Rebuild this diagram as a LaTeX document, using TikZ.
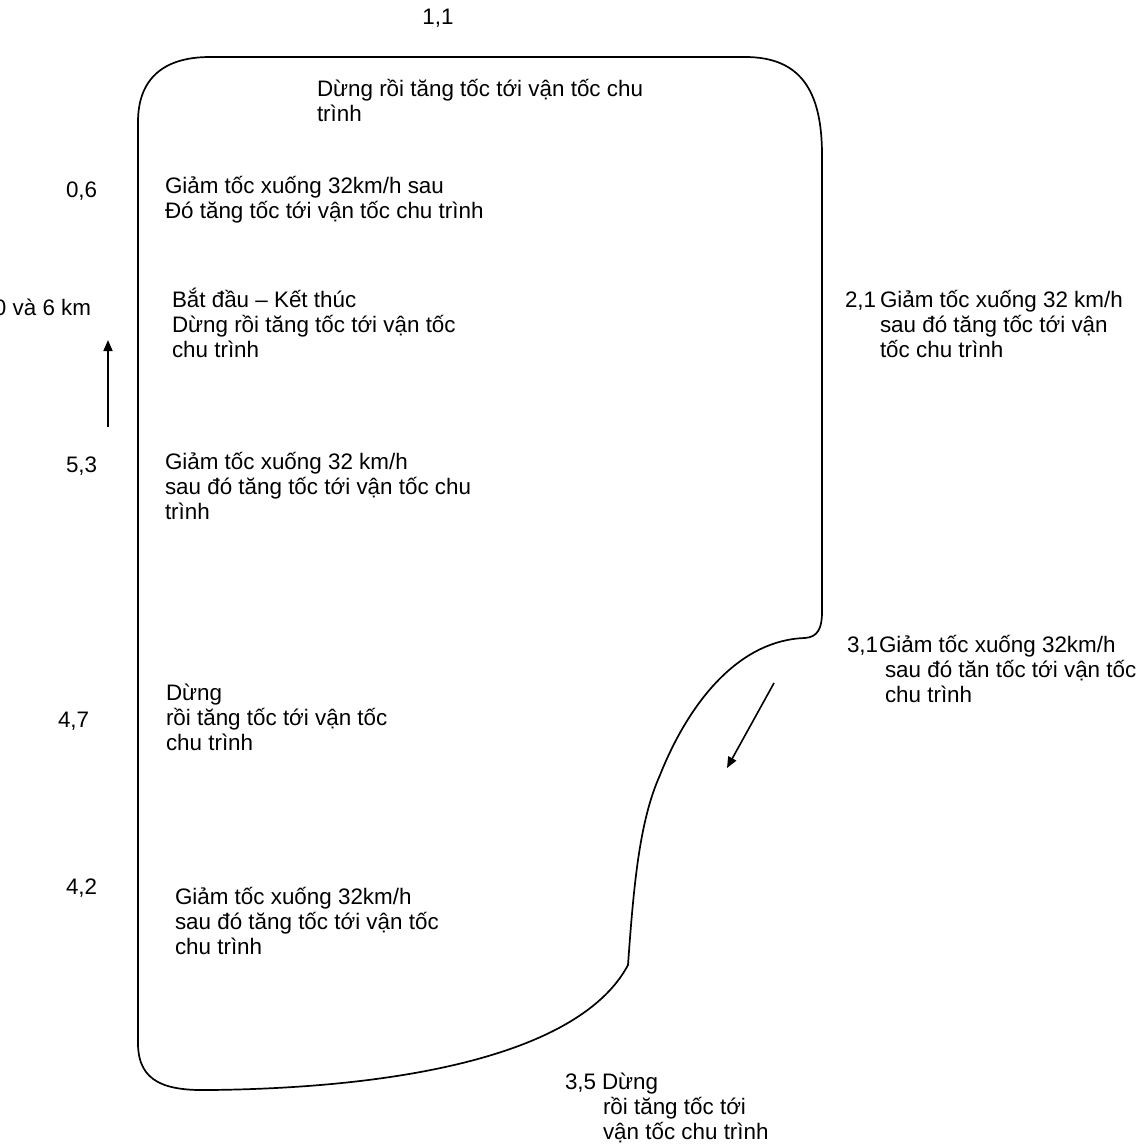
\documentclass[tikz,border=0pt]{standalone}
\usepackage{fontspec}
\setmainfont{Liberation Sans}
\usetikzlibrary{arrows.meta}
\newcommand{\mlines}[1]{\begin{tabular}[t]{@{}l@{}}#1\end{tabular}}
\tikzset{
  lbl/.style={inner sep=0pt, outer sep=0pt, font=\fontsize{22.4}{25}\selectfont, anchor=base west},
  track/.style={line width=1.7pt, line join=round},
  dirarrow/.style={line width=1.6pt, -{Triangle[length=11pt,width=9pt]}}
}
\begin{document}
\begin{tikzpicture}[x=1pt,y=-1pt]
\useasboundingbox (0,0) rectangle (1148,1145);
% track outline
\draw[track] (138,122) -- (138,1045)
  .. controls (139,1082) and (165,1091) .. (210,1090)
  .. controls (400,1088) and (580,1055) .. (628,965)
  .. controls (634,880) and (640,820) .. (660,775)
  .. controls (690,700) and (740,640) .. (805,638)
  .. controls (818,637) and (822,628) .. (822,612)
  -- (822,155)
  .. controls (822,90) and (800,57) .. (745,57)
  -- (210,57)
  .. controls (162,57) and (138,80) .. (138,122) -- cycle;
% arrows
\coordinate (a1s) at (108,427);
\coordinate (a1e) at (108,340);
\draw[dirarrow] (a1s) -- (a1e);
\coordinate (a2s) at (774,683);
\coordinate (a2e) at (727,768);
\draw[dirarrow] (a2s) -- (a2e);
% labels
\node[lbl, anchor=base] (n11) at (438,25) {1,1};
\node[lbl] (t11) at (317,97) {\mlines{Dừng rồi tăng tốc tới vận tốc chu\\trình}};
\node[lbl] (n06) at (66,197) {0,6};
\node[lbl] (t06) at (165,193) {\mlines{Giảm tốc xuống 32km/h sau\\Đó tăng tốc tới vận tốc chu trình}};
\node[lbl] (n0) at (-6,315) {0 và 6 km};
\node[lbl] (t0) at (172,307) {\mlines{Bắt đầu – Kết thúc\\Dừng rồi tăng tốc tới vận tốc\\chu trình}};
\node[lbl] (n21) at (845,307) {2,1};
\node[lbl] (t21) at (880,307) {\mlines{Giảm tốc xuống 32 km/h\\sau đó tăng tốc tới vận\\tốc chu trình}};
\node[lbl] (n53) at (66,472) {5,3};
\node[lbl] (t53) at (165,469) {\mlines{Giảm tốc xuống 32 km/h\\sau đó tăng tốc tới vận tốc chu\\trình}};
\node[lbl] (n31) at (847,652) {3,1};
\node[lbl] (t31a) at (879,652) {Giảm tốc xuống 32km/h};
\node[lbl] (t31b) at (885,677) {\mlines{sau đó tăn tốc tới vận tốc\\chu trình}};
\node[lbl] (n47) at (58,727) {4,7};
\node[lbl] (t47) at (166,700) {\mlines{Dừng\\rồi tăng tốc tới vận tốc\\chu trình}};
\node[lbl] (n42) at (66,894) {4,2};
\node[lbl] (t42) at (175,904) {\mlines{Giảm tốc xuống 32km/h\\sau đó tăng tốc tới vận tốc\\chu trình}};
\node[lbl] (n35) at (565,1089) {3,5};
\node[lbl] (t35a) at (602,1089) {Dừng};
\node[lbl] (t35b) at (603,1114) {\mlines{rồi tăng tốc tới\\vận tốc chu trình}};
\end{tikzpicture}
\end{document}
